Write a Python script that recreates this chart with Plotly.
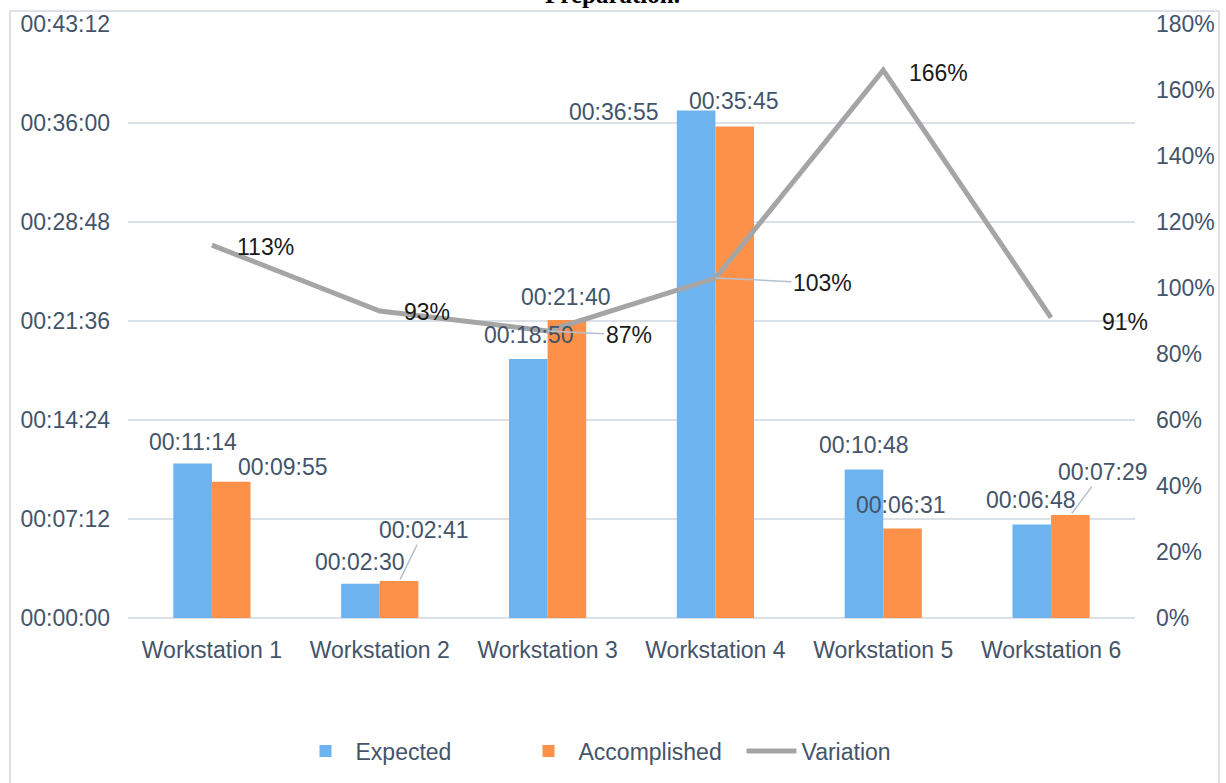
import plotly.graph_objects as go

categories = ["Workstation 1", "Workstation 2", "Workstation 3",
              "Workstation 4", "Workstation 5", "Workstation 6"]
# durations in seconds
expected_s = [674, 150, 1130, 2215, 648, 408]        # 00:11:14, 00:02:30, 00:18:50, 00:36:55, 00:10:48, 00:06:48
accomplished_s = [595, 161, 1300, 2145, 391, 449]    # 00:09:55, 00:02:41, 00:21:40, 00:35:45, 00:06:31, 00:07:29
variation_pct = [113, 93, 87, 103, 166, 91]

y_tickvals = [0, 432, 864, 1296, 1728, 2160, 2592]
y_ticktext = ["00:00:00", "00:07:12", "00:14:24", "00:21:36", "00:28:48", "00:36:00", "00:43:12"]
y2_tickvals = [0, 20, 40, 60, 80, 100, 120, 140, 160, 180]
y2_ticktext = ["0%", "20%", "40%", "60%", "80%", "100%", "120%", "140%", "160%", "180%"]


def hms(s):
    return f"{s // 3600:02d}:{(s % 3600) // 60:02d}:{s % 60:02d}"


FONT = "Liberation Sans, Arial, sans-serif"
TXT = "#44546A"
FS = 23
GRID = "#DCE1E8"

fig = go.Figure()
fig.add_trace(go.Bar(name="Expected", x=categories, y=expected_s,
                     marker=dict(color="#6DB3F0", line=dict(width=0))))
fig.add_trace(go.Bar(name="Accomplished", x=categories, y=accomplished_s,
                     marker=dict(color="#FE9149", line=dict(width=0))))
fig.add_trace(go.Scatter(name="Variation", x=categories, y=variation_pct, yaxis="y2",
                         mode="lines", line=dict(color="#A5A5A5", width=5)))

ann = []
HALF = 19.5
# label offsets (pixels) for expected / accomplished labels: (dx, dy, leader)
exp_off = [(1, 22, False), (0, 22, False), (1, 24, False), (-82, -2, False), (0, 25, False), (-1, 25, False)]
acc_off = [(52, 15, False), (25, 51, True), (-1, 23, False), (-1, 25, False), (-2, 23, False), (32, 43, True)]

for i, c in enumerate(categories):
    dx, dy, lead = exp_off[i]
    ann.append(dict(x=c, y=expected_s[i], xref="x", yref="y", text=hms(expected_s[i]),
                    showarrow=False, xshift=-HALF + dx, yshift=dy,
                    font=dict(family=FONT, size=FS, color=TXT)))
    dx, dy, lead = acc_off[i]
    if lead:
        ann.append(dict(x=c, y=accomplished_s[i], xref="x", yref="y", text=hms(accomplished_s[i]),
                        showarrow=True, arrowhead=0, arrowwidth=1.5, arrowcolor="#B4C0D0",
                        ax=dx, ay=-dy, xshift=HALF, standoff=2,
                        font=dict(family=FONT, size=FS, color=TXT)))
    else:
        ann.append(dict(x=c, y=accomplished_s[i], xref="x", yref="y", text=hms(accomplished_s[i]),
                        showarrow=False, xshift=HALF + dx, yshift=dy,
                        font=dict(family=FONT, size=FS, color=TXT)))

pct_off = [(54, -2, False), (47, -1, False), (81, -4, True), (107, -5, True), (55, -3, False), (74, -4, False)]
for i, c in enumerate(categories):
    dx, dy, lead = pct_off[i]
    if lead:
        ann.append(dict(x=c, y=variation_pct[i], xref="x", yref="y2", text=f"{variation_pct[i]}%",
                        showarrow=True, arrowhead=0, arrowwidth=1.5, arrowcolor="#B4C0D0",
                        ax=dx, ay=-dy, standoff=0,
                        font=dict(family=FONT, size=FS, color="#1A1A1A")))
    else:
        ann.append(dict(x=c, y=variation_pct[i], xref="x", yref="y2", text=f"{variation_pct[i]}%",
                        showarrow=False, xshift=dx, yshift=dy,
                        font=dict(family=FONT, size=FS, color="#1A1A1A")))

# cut-off title
ann.append(dict(x=0.4816, y=1.049, xref="paper", yref="paper", text="<b>Preparation.</b>",
                showarrow=False, yanchor="middle",
                font=dict(family="Liberation Serif, Times New Roman, serif", size=25, color="#000")))

L, R, T, B = 128, 91, 24, 165
W, H = 1226, 783
pw, ph = W - L - R, H - T - B


def px(x):
    return (x - L) / pw


def py(y):
    return (H - B - y) / ph


shapes = [
    dict(type="line", xref="paper", yref="paper", x0=px(10), x1=px(10), y0=py(11), y1=py(800),
         line=dict(color=GRID, width=2)),
    dict(type="line", xref="paper", yref="paper", x0=px(1219), x1=px(1219), y0=py(11), y1=py(800),
         line=dict(color=GRID, width=2)),
    dict(type="line", xref="paper", yref="paper", x0=px(10), x1=px(1219), y0=py(11), y1=py(11),
         line=dict(color=GRID, width=2)),
]

fig.update_layout(
    width=W, height=H,
    margin=dict(l=L, r=R, t=T, b=B, pad=0, autoexpand=False),
    paper_bgcolor="white", plot_bgcolor="white",
    barmode="group", bargap=0.54, bargroupgap=0,
    font=dict(family=FONT, size=FS, color=TXT),
    xaxis=dict(range=[-0.5, 5.5], autorange=False, showgrid=False, showline=False,
               zeroline=False, ticks="", ticklabelstandoff=16,
               tickfont=dict(size=FS, color=TXT)),
    yaxis=dict(range=[0, 2592], autorange=False, tickvals=y_tickvals, ticktext=y_ticktext,
               showgrid=True, gridcolor=GRID, gridwidth=2, zeroline=True, zerolinecolor=GRID,
               zerolinewidth=2, showline=False, ticks="", ticklabelstandoff=17,
               tickfont=dict(size=FS, color=TXT)),
    yaxis2=dict(range=[0, 180], autorange=False, tickvals=y2_tickvals, ticktext=y2_ticktext,
                overlaying="y", side="right", showgrid=False, zeroline=False, showline=False,
                ticks="", ticklabelstandoff=20, tickfont=dict(size=FS, color=TXT)),
    legend=dict(orientation="h", x=px(630), xanchor="center", y=py(751), yanchor="middle",
                font=dict(size=FS, color=TXT), bgcolor="rgba(0,0,0,0)", itemwidth=50,
                entrywidth=158, entrywidthmode="pixels", traceorder="normal"),
    annotations=ann,
    shapes=shapes,
    showlegend=True,
)

fig.write_html("out.html")
